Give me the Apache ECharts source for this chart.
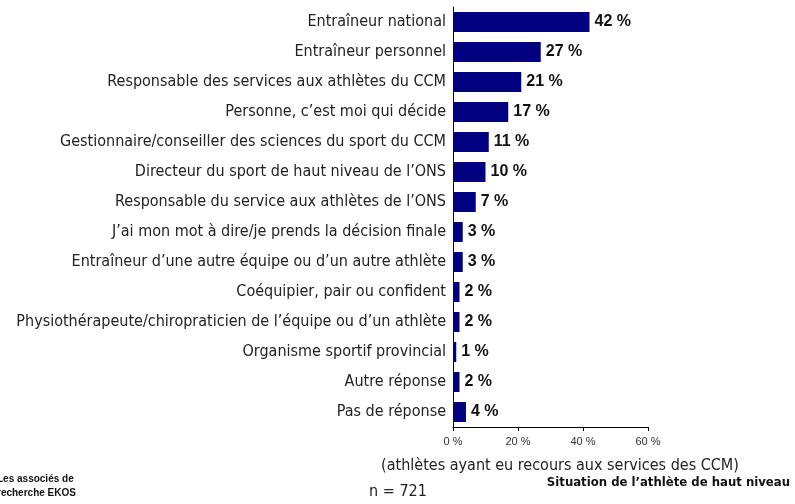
<!DOCTYPE html>
<html>
<head>
<meta charset="utf-8">
<script src="https://cdn.jsdelivr.net/npm/echarts@6/dist/echarts.min.js"></script>
<style>
  html, body { margin: 0; padding: 0; background: #fff; }
  #chart { width: 795px; height: 504px; }
</style>
</head>
<body>
<div id="chart"></div>
<script>
// categories (top to bottom)
const categories = [
  "Entraîneur national",
  "Entraîneur personnel",
  "Responsable des services aux athlètes du CCM",
  "Personne, c’est moi qui décide",
  "Gestionnaire/conseiller des sciences du sport du CCM",
  "Directeur du sport de haut niveau de l’ONS",
  "Responsable du service aux athlètes de l’ONS",
  "J’ai mon mot à dire/je prends la décision finale",
  "Entraîneur d’une autre équipe ou d’un autre athlète",
  "Coéquipier, pair ou confident",
  "Physiothérapeute/chiropraticien de l’équipe ou d’un athlète",
  "Organisme sportif provincial",
  "Autre réponse",
  "Pas de réponse"
];
// percentages
const values = [42, 27, 21, 17, 11, 10, 7, 3, 3, 2, 2, 1, 2, 4];
const xTicks = [0, 20, 40, 60];

const narrow = '"Liberation Sans Narrow", "Arial Narrow", "DejaVu Sans Condensed", sans-serif';
const sans = '"Liberation Sans", Arial, sans-serif';

const chart = echarts.init(document.getElementById("chart"));
const option = {
  animation: false,
  grid: { left: 453, right: 147, top: 7, bottom: 77 },
  xAxis: {
    type: "value",
    min: xTicks[0],
    max: xTicks[xTicks.length - 1],
    interval: 20,
    axisLine: { show: true, lineStyle: { color: "#000", width: 1 } },
    axisTick: { show: true, length: 4, lineStyle: { color: "#000" } },
    splitLine: { show: false },
    axisLabel: {
      formatter: "{value} %",
      fontFamily: sans,
      fontSize: 11,
      color: "#333",
      margin: 9
    }
  },
  yAxis: {
    type: "category",
    inverse: true,
    data: categories,
    axisLine: { show: true, lineStyle: { color: "#000", width: 1 } },
    axisTick: { show: false },
    axisLabel: {
      fontFamily: narrow,
      fontSize: 16,
      color: "#222",
      margin: 7
    }
  },
  series: [{
    type: "bar",
    data: values,
    barWidth: 20,
    itemStyle: { color: "#000080" },
    label: {
      show: true,
      position: "right",
      distance: 5,
      formatter: "{c} %",
      fontFamily: sans,
      fontWeight: "bold",
      fontSize: 16,
      color: "#111"
    }
  }],
  graphic: [
    {
      type: "text", x: 560, y: 466,
      style: { text: "(athlètes ayant eu recours aux services des CCM)", font: "16px " + narrow, fill: "#222", align: "center", verticalAlign: "middle" }
    },
    {
      type: "text", x: 398, y: 492,
      style: { text: "n = 721", font: "16px " + narrow, fill: "#222", align: "center", verticalAlign: "middle" }
    },
    {
      type: "text", x: 790, y: 483,
      style: { text: "Situation de l’athlète de haut niveau", font: "bold 13px " + narrow, fill: "#111", align: "right", verticalAlign: "middle" }
    },
    {
      type: "text", x: -3, y: 472,
      style: { text: "Les associés de\nrecherche EKOS", font: "bold 10px " + sans, fill: "#111", lineHeight: 14 }
    }
  ]
};
chart.setOption(option);
</script>
</body>
</html>
